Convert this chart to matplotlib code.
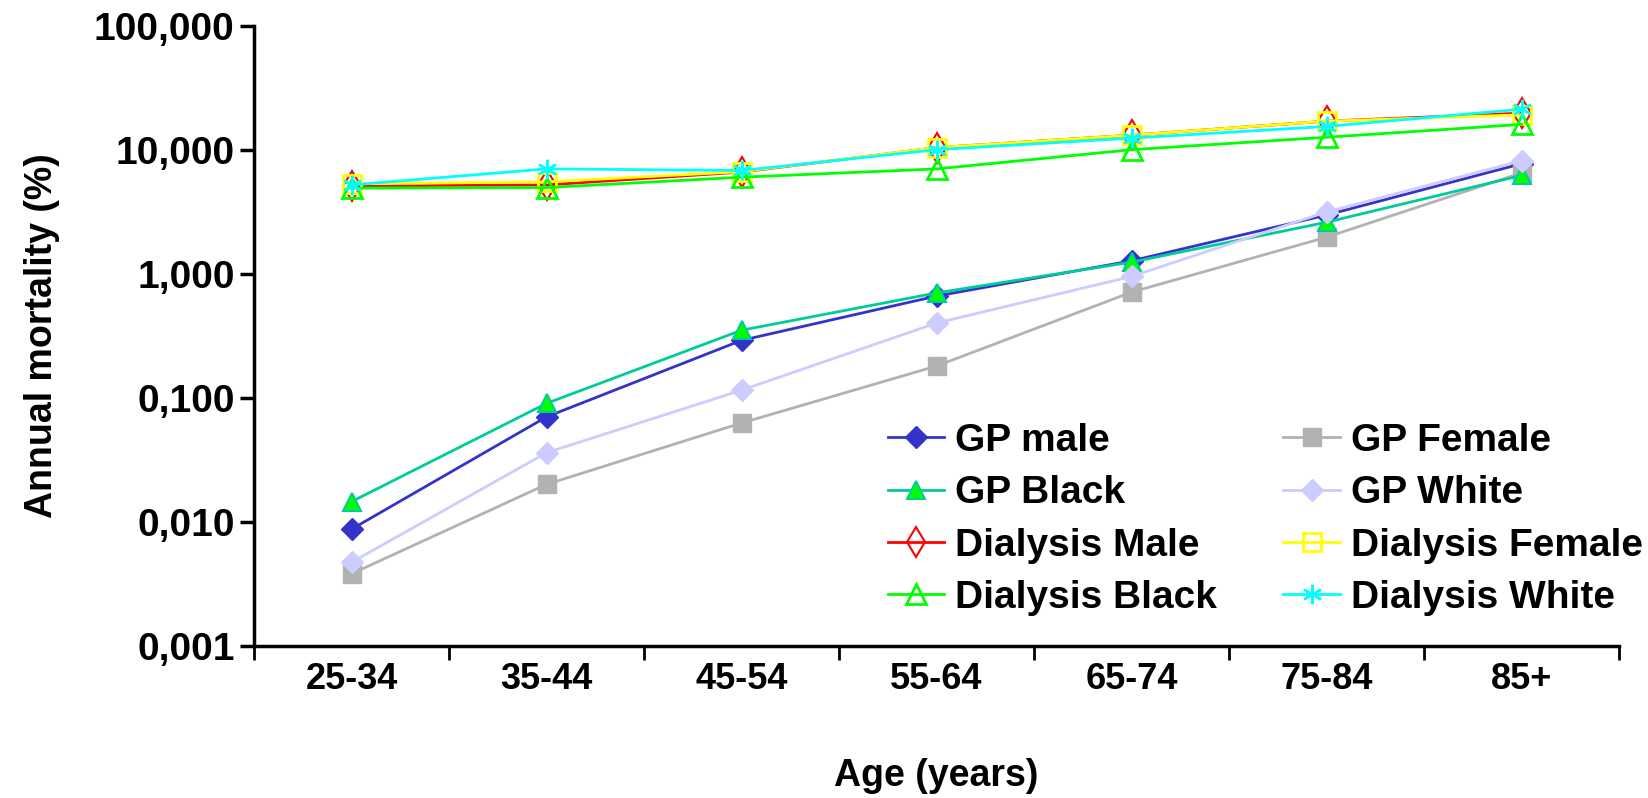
import matplotlib
matplotlib.use("Agg")
import matplotlib.pyplot as plt
from matplotlib.ticker import FixedLocator, FuncFormatter, NullFormatter

# age groups and annual mortality (%)
ages = ['25-34', '35-44', '45-54', '55-64', '65-74', '75-84', '85+']
gp_male = [0.0087, 0.070, 0.29, 0.66, 1.27, 2.97, 7.7]
gp_female = [0.0038, 0.020, 0.0625, 0.18, 0.71, 1.97, 6.5]
gp_black = [0.0145, 0.090, 0.35, 0.70, 1.24, 2.6, 6.2]
gp_white = [0.0047, 0.036, 0.115, 0.40, 0.95, 3.15, 8.15]
dial_male = [5.1, 5.2, 6.6, 10.4, 13.1, 17.0, 19.7]
dial_female = [5.3, 5.5, 6.65, 10.4, 13.1, 17.0, 19.1]
dial_black = [4.9, 4.95, 6.0, 7.0, 10.0, 12.6, 16.0]
dial_white = [5.2, 7.0, 6.8, 10.0, 12.4, 15.4, 21.2]
y_ticks = [0.001, 0.01, 0.1, 1, 10, 100]

plt.rcParams['font.family'] = ['Liberation Sans', 'DejaVu Sans']
plt.rcParams['font.weight'] = 'bold'

fig = plt.figure(figsize=(16.48, 7.98), dpi=100)
ax = fig.add_axes([254 / 1648, 1 - 645.7 / 798, (1619 - 254) / 1648, (645.7 - 25.7) / 798])

x = list(range(len(ages)))
lw = 2.0

series = [
    ("GP male", gp_male, dict(color='#3333CC', marker='D', ms=11, mfc='#3333CC', mec='#3333CC')),
    ("GP Female", gp_female, dict(color='#B2B2B2', marker='s', ms=13, mfc='#B2B2B2', mec='#B2B2B2')),
    ("GP Black", gp_black, dict(color='#00CC99', marker='^', ms=13, mfc='#00FF00', mec='#00CC99', mew=1.5)),
    ("GP White", gp_white, dict(color='#CCCCFF', marker='D', ms=11, mfc='#CCCCFF', mec='#CCCCFF')),
    ("Dialysis Male", dial_male, dict(color='#FF0000', marker='d', ms=15, mfc='none', mec='#FF0000', mew=1.5)),
    ("Dialysis Female", dial_female, dict(color='#FFFF00', marker='s', ms=13, mfc='none', mec='#FFFF00', mew=2)),
    ("Dialysis Black", dial_black, dict(color='#00FF00', marker='^', ms=14, mfc='none', mec='#00FF00', mew=2)),
    ("Dialysis White", dial_white, dict(color='#00FFFF', marker=(6, 2, 0), ms=14, mec='#00FFFF', mew=1.8)),
]

handles = {}
for name, vals, style in series:
    line, = ax.plot(x, vals, lw=lw, label=name, **style)
    handles[name] = line

ax.set_yscale('log')
ax.set_ylim(0.001, 100)
ax.set_xlim(-0.5, len(ages) - 0.5)

ax.yaxis.set_major_locator(FixedLocator(y_ticks))
ax.yaxis.set_minor_locator(FixedLocator([]))
ax.yaxis.set_major_formatter(FuncFormatter(lambda v, p: f"{v:.3f}".replace('.', ',')))

# ticks at category boundaries, labels at centres
ax.xaxis.set_major_locator(FixedLocator([i - 0.5 for i in range(len(ages) + 1)]))
ax.xaxis.set_major_formatter(NullFormatter())
ax.xaxis.set_minor_locator(FixedLocator(x))
ax.set_xticklabels(ages, minor=True)
ax.tick_params(axis='x', which='minor', length=0, pad=12, labelsize=26)
ax.tick_params(axis='x', which='major', length=10, width=2, direction='out')
ax.tick_params(axis='y', which='major', length=10, width=2.5, direction='out', labelsize=28, pad=4)

for s in ['top', 'right']:
    ax.spines[s].set_visible(False)
for s in ['left', 'bottom']:
    ax.spines[s].set_linewidth(2.5)

ax.set_xlabel("Age (years)", fontsize=27, fontweight='bold', labelpad=44)
ax.set_ylabel("Annual mortality (%)", fontsize=27, fontweight='bold', labelpad=24)

order = ["GP male", "GP Black", "Dialysis Male", "Dialysis Black",
         "GP Female", "GP White", "Dialysis Female", "Dialysis White"]
fig.legend([handles[n] for n in order], order, ncol=2, frameon=False,
           loc='upper left', bbox_to_anchor=(888 / 1648, 1 - 423 / 798),
           fontsize=28, handlelength=1.45, handletextpad=0.28,
           columnspacing=1.7, labelspacing=0.42, borderpad=0, borderaxespad=0)

fig.savefig("out.png", dpi=100)
